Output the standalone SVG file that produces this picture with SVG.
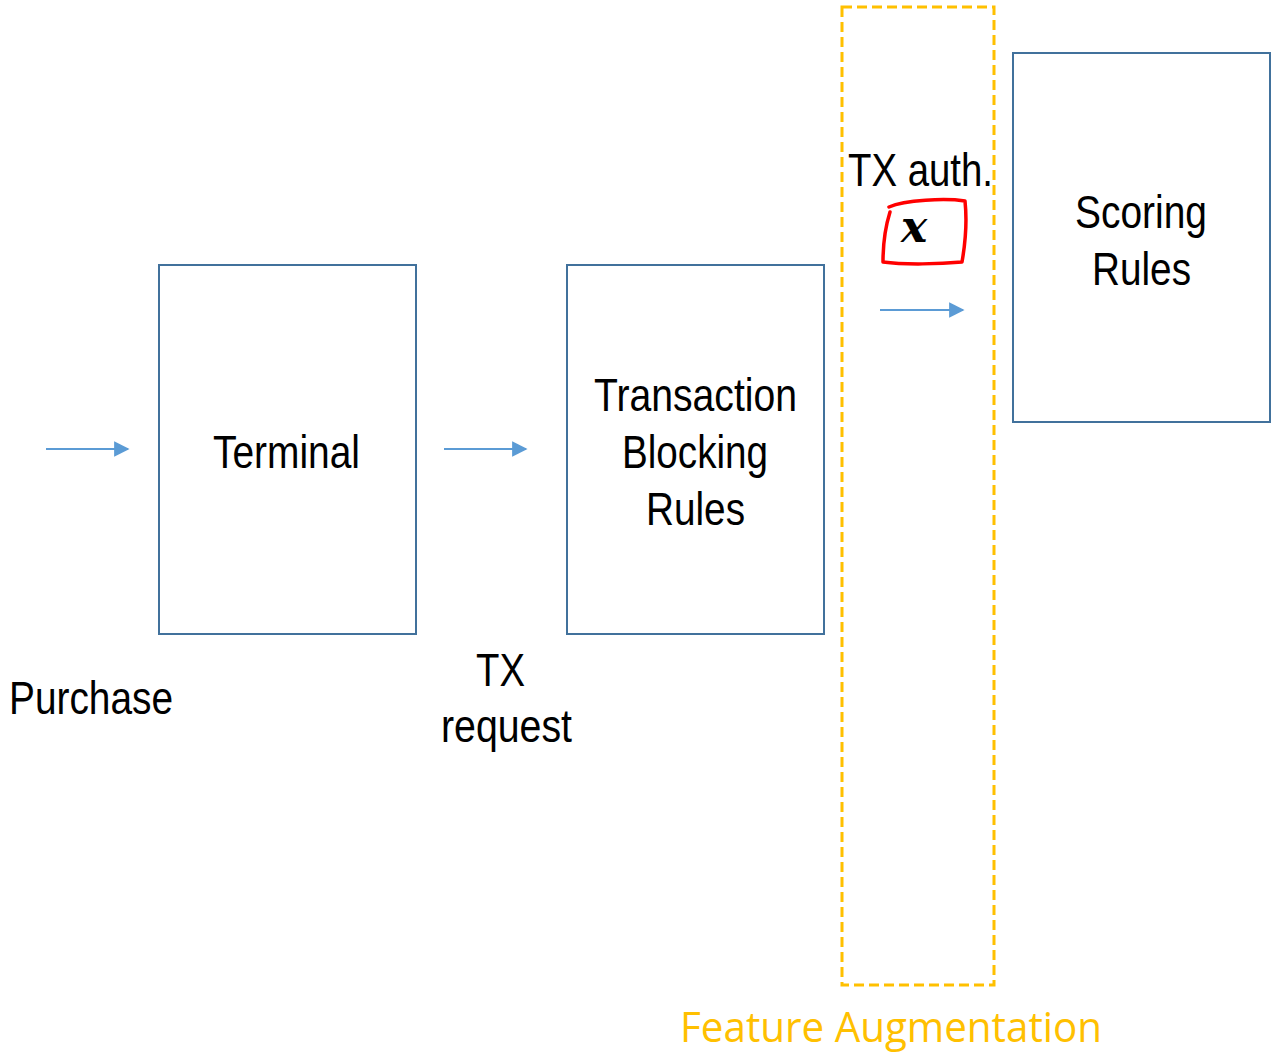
<svg xmlns="http://www.w3.org/2000/svg" width="1281" height="1052" viewBox="0 0 1281 1052">
<style>
.box{fill:#fff;stroke:#41719c;stroke-width:2}
.lbl{font-family:"Liberation Sans",Arial,sans-serif;font-size:47px;fill:#000}
.conn{stroke:#5b9bd5;stroke-width:2.2;fill:none}
</style>
<defs>
<marker id="ah" viewBox="0 0 10 10" refX="9" refY="5" markerWidth="7" markerHeight="7" markerUnits="strokeWidth" orient="auto">
<path d="M0,0 L10,5 L0,10 z" fill="#5b9bd5"/>
</marker>
</defs>
<rect width="1281" height="1052" fill="#fff"/>
<g id="feature-augmentation">
<rect x="842" y="7" width="152" height="978" fill="none" stroke="#ffc000" stroke-width="3" stroke-dasharray="10,5"/>
<text x="680" y="1042" textLength="422" lengthAdjust="spacingAndGlyphs" style="font-family:'Open Sans','Noto Sans',sans-serif;font-size:42px;font-weight:400;fill:#ffc000">Feature Augmentation</text>
</g>
<g id="terminal">
<rect class="box" x="159" y="265" width="257" height="369"/>
<text class="lbl" x="213" y="468" textLength="147" lengthAdjust="spacingAndGlyphs">Terminal</text>
</g>
<g id="transaction-blocking-rules">
<rect class="box" x="567" y="265" width="257" height="369"/>
<text class="lbl" x="594" y="411" textLength="203" lengthAdjust="spacingAndGlyphs">Transaction</text>
<text class="lbl" x="622" y="468" textLength="146" lengthAdjust="spacingAndGlyphs">Blocking</text>
<text class="lbl" x="646" y="525" textLength="99" lengthAdjust="spacingAndGlyphs">Rules</text>
</g>
<g id="scoring-rules">
<rect class="box" x="1013" y="53" width="257" height="369"/>
<text class="lbl" x="1075" y="228" textLength="132" lengthAdjust="spacingAndGlyphs">Scoring</text>
<text class="lbl" x="1092" y="285" textLength="99" lengthAdjust="spacingAndGlyphs">Rules</text>
</g>
<g id="purchase-label">
<text class="lbl" x="9" y="714" textLength="164" lengthAdjust="spacingAndGlyphs">Purchase</text>
</g>
<g id="tx-request-label">
<text class="lbl" x="476" y="686" textLength="49" lengthAdjust="spacingAndGlyphs">TX</text>
<text class="lbl" x="441" y="742" textLength="131" lengthAdjust="spacingAndGlyphs">request</text>
</g>
<g id="tx-auth-label">
<text class="lbl" x="848" y="186" textLength="145" lengthAdjust="spacingAndGlyphs">TX auth.</text>
<path d="M889,207 C905,200 945,198 965,201 C967,220 965,245 962,262 C940,264 905,265 883,262 C883,245 885,228 890,212" fill="none" stroke="#ff0000" stroke-width="3.5" stroke-linecap="round" stroke-linejoin="round"/>
<text x="901" y="242" style="font-family:'DejaVu Serif','Liberation Serif',serif;font-size:44px;font-style:italic;font-weight:bold;fill:#000">x</text>
</g>
<g id="connectors">
<line class="conn" x1="46" y1="449" x2="128" y2="449" marker-end="url(#ah)"/>
<line class="conn" x1="444" y1="449" x2="526" y2="449" marker-end="url(#ah)"/>
<line class="conn" x1="880" y1="310" x2="963" y2="310" marker-end="url(#ah)"/>
</g>
</svg>
